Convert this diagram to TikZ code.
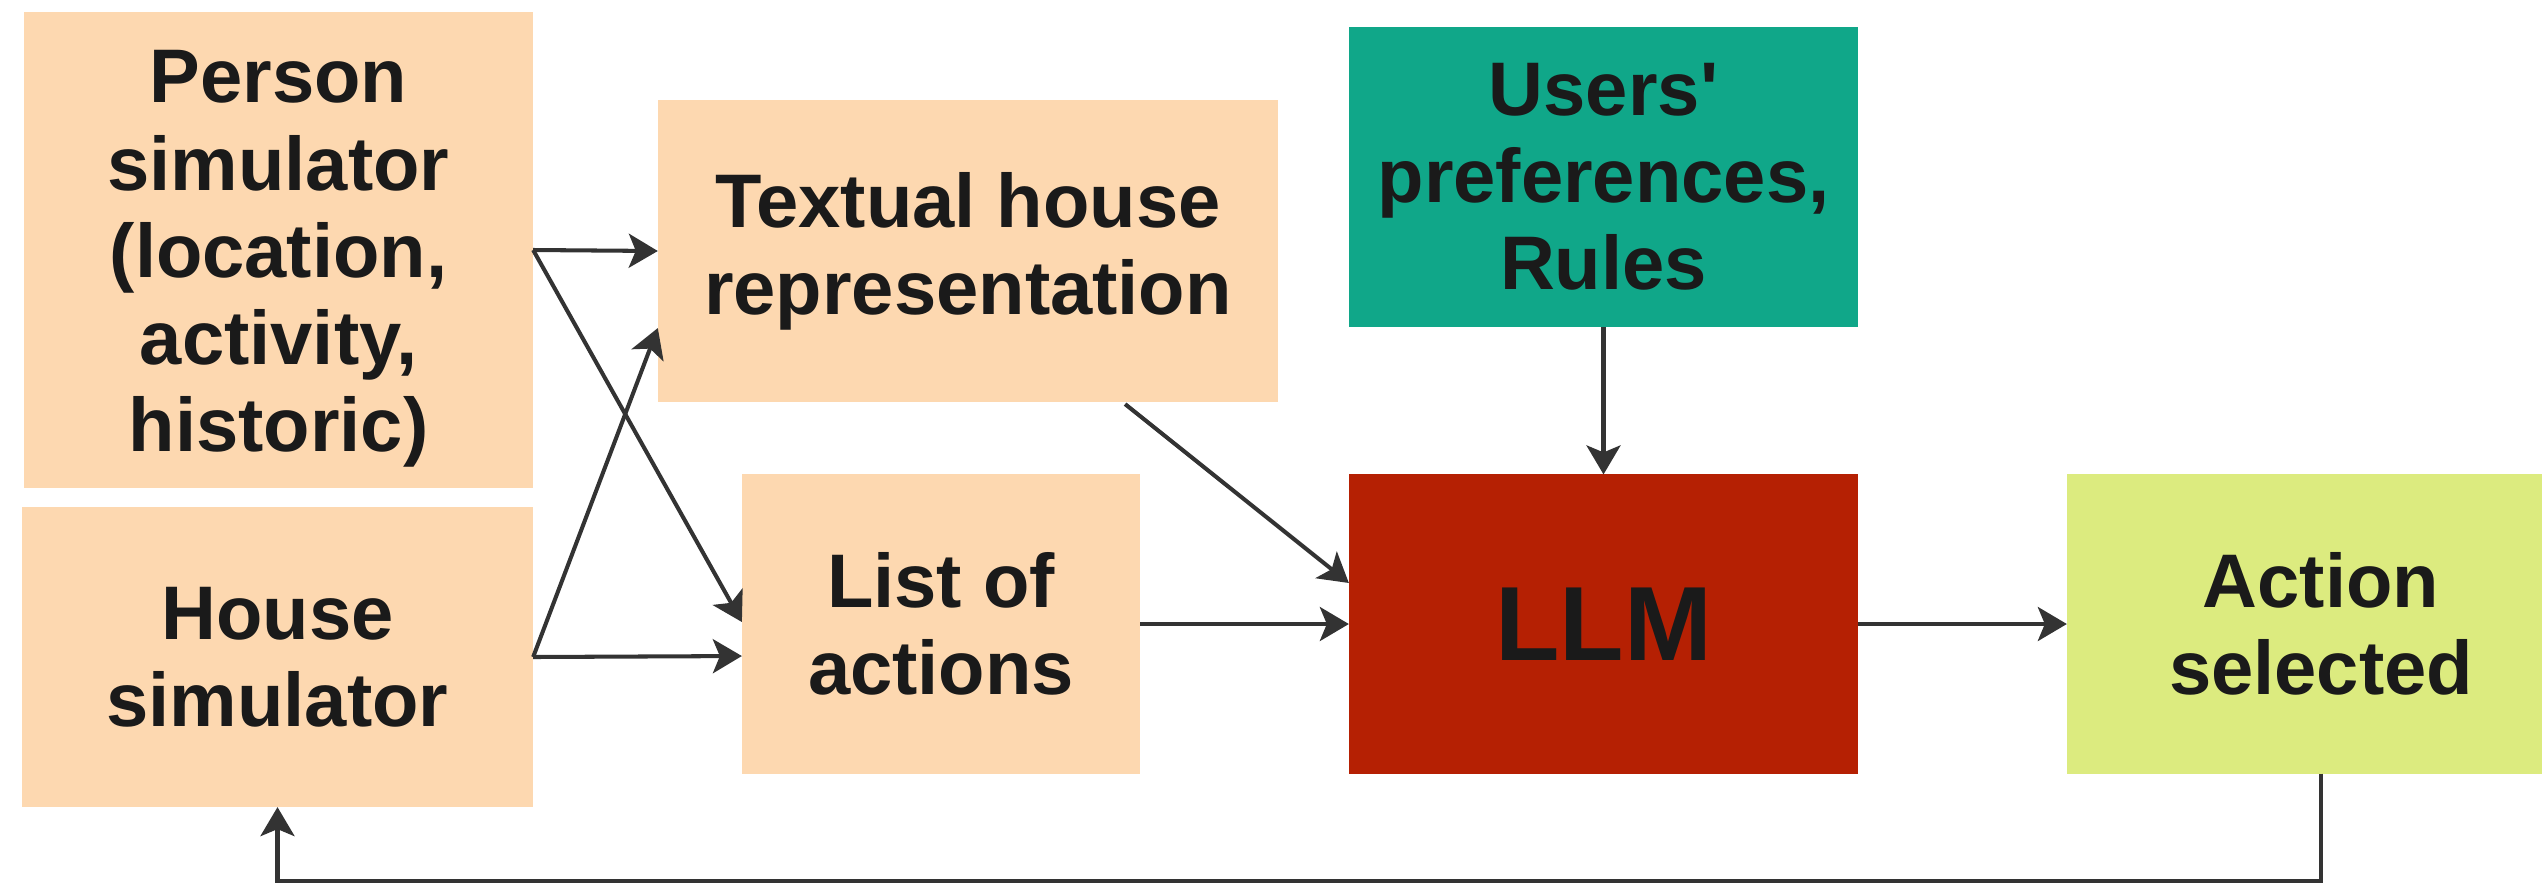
\documentclass[tikz,border=0pt]{standalone}
\usepackage{fontspec}
\setmainfont{Liberation Sans}
\usetikzlibrary{arrows.meta,calc}
\definecolor{peach}{HTML}{FDD8B0}
\definecolor{teal2}{HTML}{10A789}
\definecolor{llmred}{HTML}{B52003}
\definecolor{lime2}{HTML}{DCEB7F}
\definecolor{txt}{HTML}{1A1A1A}
\definecolor{arr}{HTML}{333333}
\begin{document}
\begin{tikzpicture}[x=0.01cm,y=0.01cm,
  box/.style={rectangle,inner sep=0pt,outer sep=0pt,align=center,text=txt,
    font=\fontsize{21.6}{24.8}\selectfont\bfseries},
  conn/.style={draw=arr,line width=1.15pt,-{Stealth[length=0.29cm,width=0.34cm,inset=0.07cm]}}]
\useasboundingbox (0,0) rectangle (2542,-884);
\node[box,fill=peach,minimum width=5.09cm,minimum height=4.76cm] (person) at (278.5,-250) {};
\node[box] (personlbl) at (278.5,-259) {Person\\simulator\\(location,\\activity,\\historic)};
\node[box,fill=peach,minimum width=5.11cm,minimum height=3.0cm] (house) at (277.5,-657) {House\\simulator};
\node[box,fill=peach,minimum width=6.2cm,minimum height=3.02cm] (textual) at (968,-251) {Textual house\\representation};
\node[box,fill=peach,minimum width=3.98cm,minimum height=2.99cm] (list) at (941,-624) {List of\\actions};
\node[box,fill=teal2,minimum width=5.09cm,minimum height=3.0cm] (users) at (1603.5,-177) {Users\textquotesingle\\preferences,\\Rules};
\node[box,fill=llmred,minimum width=5.09cm,minimum height=2.99cm,font=\fontsize{30}{34}\selectfont\bfseries] (llm) at (1603.5,-624) {LLM};
\node[box,fill=lime2,minimum width=5.08cm,minimum height=2.99cm] (action) at (2321,-624) {Action\\selected};
\draw[conn] (person.east) -- (textual.west);
\draw[conn] (person.east) -- ([yshift=0.02cm]list.west);
\draw[conn] (house.east) -- ([yshift=-0.77cm]textual.west);
\draw[conn] (house.east) -- ([yshift=-0.32cm]list.west);
\draw[conn] ([xshift=1.57cm,yshift=-0.02cm]textual.south) -- ([yshift=0.41cm]llm.west);
\draw[conn] (list.east) -- (llm.west);
\draw[conn] (users.south) -- (llm.north);
\draw[conn] (llm.east) -- (action.west);
\coordinate (fb) at (2321,-881);
\draw[conn] (action.south) -- (fb) -| (house.south);
\end{tikzpicture}
\end{document}
